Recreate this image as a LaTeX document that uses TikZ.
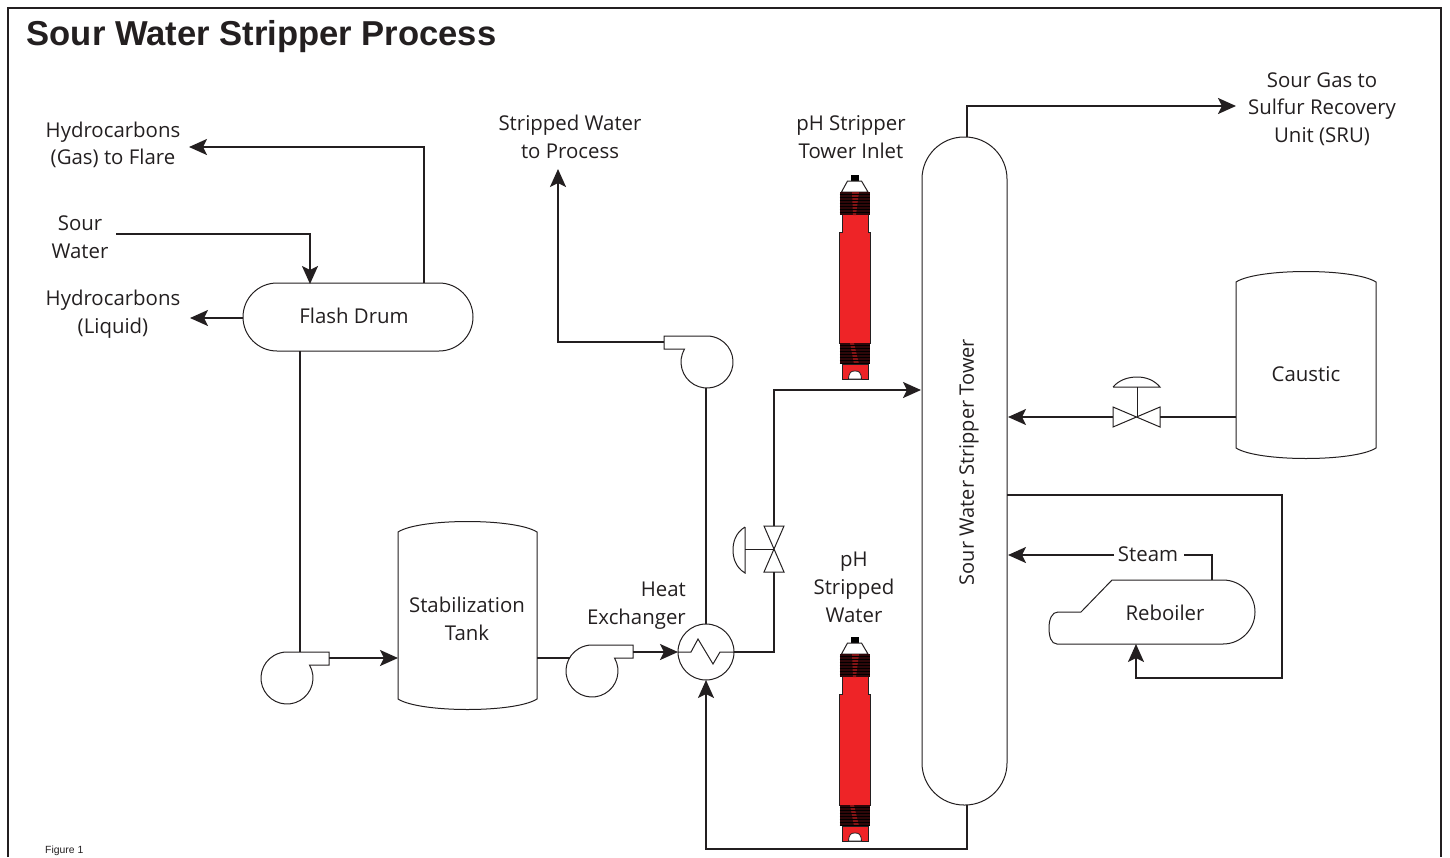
\documentclass[tikz,border=0pt]{standalone}
\usepackage{fontspec}
\setmainfont{Open Sans}
\newfontfamily\arialfont{Liberation Sans}
\usetikzlibrary{arrows.meta,shapes.misc}
\definecolor{ink}{HTML}{231F20}
\definecolor{probe}{HTML}{EE2427}
\definecolor{thread}{HTML}{2E0709}
\tikzset{
  pipe/.style={draw=ink,line width=2.2pt},
  flow/.style={pipe,-{Stealth[length=18pt,width=16pt,inset=4pt]}},
  equip/.style={draw=ink,line width=1pt},
  lab/.style={text=ink,font=\fontsize{20.4}{27.7}\selectfont,align=center,inner sep=0pt},
}
\newcommand{\probe}[1]{%
\begin{scope}[shift={(0,#1)}]
  \fill[black] (850.5,175) rectangle (858.5,181);
  \draw[ink,line width=1pt,fill=white] (847.5,181) -- (861.5,181) -- (868,192) -- (841.5,192) -- cycle;
  \fill[probe,draw=ink,line width=.8pt] (842,214) -- (868,214) -- (868,232) -- (870,232) -- (870,343) -- (839.5,343) -- (839.5,232) -- (842,232) -- cycle;
  \fill[thread] (840,192) rectangle (870,215);
  \fill[thread] (840,343) rectangle (870,364);
  \fill[probe!55!black] (852,192) -- (859,192) -- (856,215) -- (853,215) -- cycle;
  \fill[probe!55!black] (850,343) -- (854,343) -- (859,364) -- (854,364) -- cycle;
  \foreach \yy in {194,197,...,213} {\draw[black,line width=.8pt] (839.5,\yy) -- (870,\yy);}
  \foreach \yy in {345,348,...,363} {\draw[black,line width=.8pt] (839.5,\yy) -- (870,\yy);}
  \fill[probe,draw=ink,line width=.8pt] (842,364) -- (868,364) -- (868,379) -- (842,379) -- cycle;
  \draw[ink,line width=.8pt,fill=white] (848.5,379) .. controls (849,372) and (851,371) .. (855,371) .. controls (859,371) and (861,372) .. (861.5,379) -- cycle;
\end{scope}}
\begin{document}
\begin{tikzpicture}[x=1pt,y=-1pt]
\useasboundingbox (0,0) rectangle (1450,857);
% frame
\draw[ink,line width=1.4pt] (8,857) -- (8,8) -- (1441,8) -- (1441,857);
\node[anchor=west,inner sep=0pt,text=ink,font=\arialfont\bfseries\fontsize{34.6}{40}\selectfont] (title) at (26.5,37) {Sour Water Stripper Process};
\node[anchor=west,inner sep=0pt,text=ink,font=\arialfont\fontsize{10.4}{12}\selectfont] (figlabel) at (45,851) {Figure 1};

% vessels
\node[equip,rounded rectangle,minimum width=230pt,minimum height=68pt,inner sep=0pt,lab] (drum) at (358,317) {};
\node[lab] (drumtext) at (354,316) {Flash Drum};
\node[equip,rectangle,rounded corners=42pt,minimum width=85pt,minimum height=668pt,inner sep=0pt] (tower) at (964.5,471) {};
\node[lab,rotate=90,font=\fontsize{20}{27.7}\selectfont] (towertext) at (969,462) {Sour Water Stripper Tower};
\draw[equip] (398,699) -- (398,532) .. controls (420,518) and (515,518) .. (537,532) -- (537,699) .. controls (515,713) and (420,713) .. (398,699) -- cycle;
\node[lab] (tanktext) at (467,619) {Stabilization\\Tank};
\draw[equip] (1236,448) -- (1236,282) .. controls (1258,268) and (1354,268) .. (1376,282) -- (1376,448) .. controls (1354,462) and (1258,462) .. (1236,448) -- cycle;
\node[lab] (caustic) at (1306,374) {Caustic};
\draw[equip] (1057,644) .. controls (1051,644) and (1049,636) .. (1049,628) .. controls (1049,619) and (1052,612) .. (1058,612) -- (1081,612) -- (1112,580) -- (1223,580) arc[start angle=90,end angle=-90,radius=32pt] -- cycle;
\node[lab] (reboiler) at (1165,613) {Reboiler};

% pumps
\draw[equip] (287,652) -- (329,652) -- (329,665) -- (309.5,665) arc[start angle=30,end angle=-270,radius=26pt];
\draw[equip] (592,645) -- (633,645) -- (633,658) -- (614.5,658) arc[start angle=30,end angle=-270,radius=26pt];
\draw[equip] (707,336) -- (664,336) -- (664,349) -- (684.5,349) arc[start angle=150,end angle=450,radius=26pt];

% heat exchanger
\node[equip,circle,minimum size=56pt,inner sep=0pt] (hx) at (706,652) {};
\draw[equip] (hx.west) -- (691,652) -- (698,639) -- (713,664) -- (720,652) -- (hx.east);

% valves
\draw[equip] (764,526) -- (784,526) -- (764,572) -- (784,572) -- cycle;
\draw[equip] (774,549) -- (745,549);
\draw[equip] (745,527) -- (745,573) .. controls (735,567) and (733,557) .. (733,550) .. controls (733,543) and (735,533) .. (745,527);
\draw[equip] (1113,407) -- (1113,427) -- (1160,407) -- (1160,427) -- cycle;
\draw[equip] (1137,417) -- (1137,387);
\draw[equip] (1113,387) -- (1160,387) .. controls (1154,380) and (1146,377) .. (1137,377) .. controls (1128,377) and (1119,380) .. (1113,387);

% labels
\node[lab] (lflare) at (113,145) {Hydrocarbons\\(Gas) to Flare};
\node[lab] (lsour) at (80,237) {Sour\\Water};
\node[lab] (lliq) at (113,314.5) {Hydrocarbons\\(Liquid)};
\node[lab] (lproc) at (570,137) {Stripped Water\\to Process};
\node[lab] (linlet) at (851,137.3) {pH Stripper\\Tower Inlet};
\node[lab] (lsru) at (1322,109) {Sour Gas to\\Sulfur Recovery\\Unit (SRU)};
\node[lab,align=right,anchor=east] (lhx) at (686,605.5) {Heat\\Exchanger};
\node[lab] (lstripped) at (854,587.3) {pH\\Stripped\\Water};
\node[lab] (lsteam) at (1148,554) {Steam};

% sensors
\probe{0}
\probe{462}

% port coordinates
\coordinate (flareport) at (424,283);
\coordinate (flareend) at (189,147);
\coordinate (sourstart) at (116,234);
\coordinate (sourend) at (310,284);
\coordinate (liqstart) at (243,318);
\coordinate (liqend) at (190,318);
\coordinate (drumbot) at (300,351);
\coordinate (p1top) at (300,652);
\coordinate (p1out) at (329,658);
\coordinate (tankin) at (398,658);
\coordinate (tankout) at (537,658);
\coordinate (p2in) at (570,658);
\coordinate (p2out) at (633,652);
\coordinate (hxw) at (678,652);
\coordinate (hxn) at (706,624);
\coordinate (hxs) at (706,680);
\coordinate (hxe) at (734,652);
\coordinate (p3bot) at (706,388);
\coordinate (p3out) at (664,342);
\coordinate (procend) at (558,169);
\coordinate (v1bot) at (774,572);
\coordinate (v1top) at (774,526);
\coordinate (towerin) at (921,390);
\coordinate (towertop) at (967,137);
\coordinate (gasend) at (1236,106);
\coordinate (towerbot) at (967,805);
\coordinate (causticout) at (1236,417);
\coordinate (v2r) at (1160,417);
\coordinate (v2l) at (1113,417);
\coordinate (towercaus) at (1008,417);
\coordinate (rebtop) at (1212,580);
\coordinate (steamr) at (1184,555);
\coordinate (steaml) at (1114,555);
\coordinate (towersteam) at (1008,555);
\coordinate (towerout) at (1007,495);
\coordinate (rebin) at (1136,644);

% connectors
\draw[flow] (flareport) |- (flareend);
\draw[flow] (sourstart) -| (sourend);
\draw[flow] (liqstart) -- (liqend);
\draw[pipe] (drumbot) -- (p1top);
\draw[flow] (p1out) -- (tankin);
\draw[pipe] (tankout) -- (p2in);
\draw[flow] (p2out) -- (hxw);
\draw[pipe] (p3bot) -- (hxn);
\draw[flow] (p3out) -| (procend);
\draw[pipe] (hxe) -| (v1bot);
\draw[flow] (v1top) |- (towerin);
\draw[flow] (towertop) |- (gasend);
\draw[flow] (towerbot) -- ++(0,44) -| (hxs);
\draw[pipe] (causticout) -- (v2r);
\draw[flow] (v2l) -- (towercaus);
\draw[pipe] (rebtop) |- (steamr);
\draw[flow] (steaml) -- (towersteam);
\draw[flow] (towerout) -- ++(275,0) -- ++(0,183) -| (rebin);
\end{tikzpicture}
\end{document}
